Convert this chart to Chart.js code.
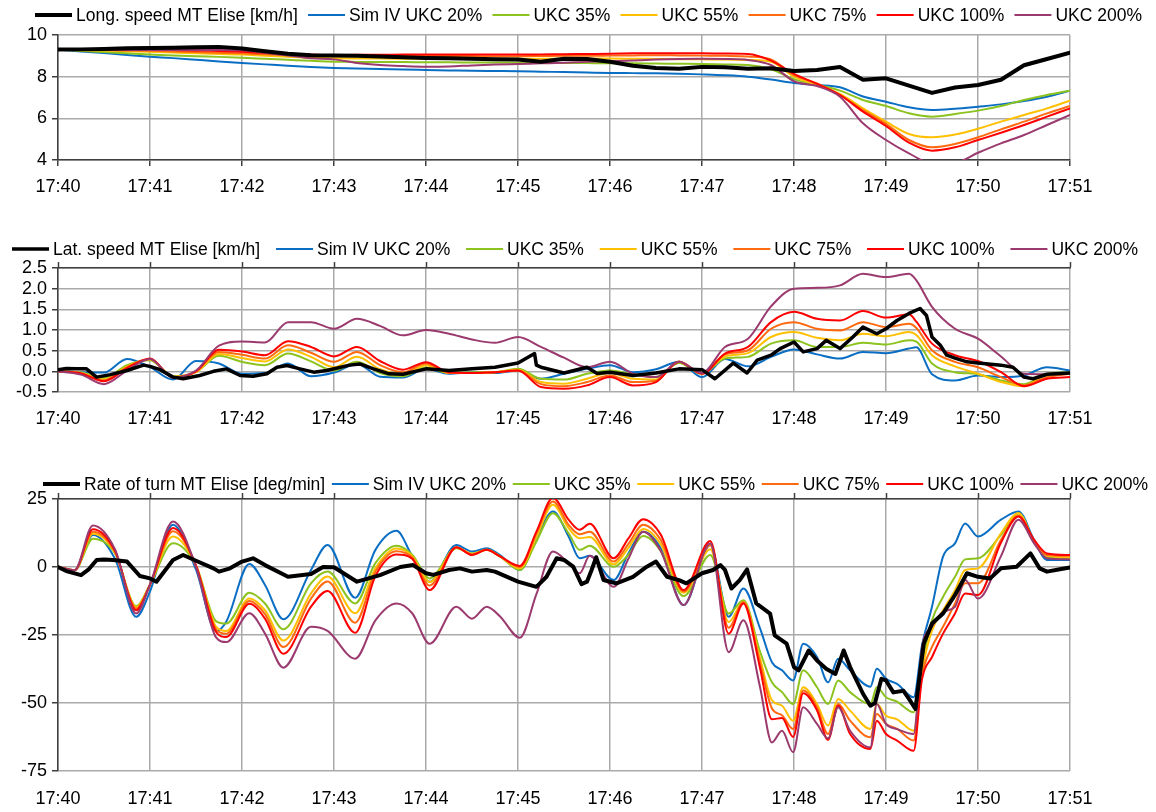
<!DOCTYPE html>
<html>
<head>
<meta charset="utf-8">
<script src="https://cdn.jsdelivr.net/npm/chart.js@4.4.1/dist/chart.umd.min.js"></script>
<style>
  html, body { margin: 0; padding: 0; background: #fff; }
  #wrap { position: relative; width: 1156px; height: 812px; overflow: hidden; background: #fff; }
  canvas { position: absolute; left: 0; }
</style>
</head>
<body>
<div id="wrap">
  <canvas id="speed" width="1156" height="212" style="top:0px"></canvas>
  <canvas id="lat" width="1156" height="212" style="top:230px"></canvas>
  <canvas id="rot" width="1156" height="347" style="top:465px"></canvas>
</div>
<script>
// ---- axis labels ----
const timeLabels = ['17:40','17:41','17:42','17:43','17:44','17:45','17:46','17:47','17:48','17:49','17:50','17:51'];
const simLabels = ['Sim IV UKC 20%','UKC 35%','UKC 55%','UKC 75%','UKC 100%','UKC 200%'];
const simColors = ['#0A6FC4','#8CC31E','#FFC000','#FF6A10','#FF0000','#9B3A6E'];

// ---- longitudinal speed [km/h], minutes after 17:40 ----
const speedTime = [0,0.25,0.5,0.75,1,1.25,1.5,1.75,2,2.25,2.5,2.75,3,3.25,3.5,3.75,4,4.25,4.5,4.75,5,5.25,5.5,5.75,6,6.25,6.5,6.75,7,7.25,7.5,7.75,8,8.25,8.5,8.75,9,9.25,9.5,9.75,10,10.25,10.5,10.75,11];
const speedMeasured = [9.30,9.31,9.33,9.36,9.38,9.39,9.41,9.43,9.35,9.22,9.10,9.03,9.02,9.00,8.97,8.93,8.90,8.88,8.86,8.84,8.82,8.72,8.86,8.85,8.72,8.52,8.42,8.38,8.47,8.45,8.38,8.40,8.27,8.32,8.46,7.85,7.92,7.57,7.22,7.48,7.60,7.85,8.55,8.85,9.15];
const speedUkc20 = [9.30,9.21,9.13,9.04,8.96,8.89,8.81,8.73,8.66,8.59,8.52,8.46,8.42,8.39,8.37,8.34,8.32,8.30,8.28,8.27,8.26,8.24,8.22,8.20,8.18,8.17,8.16,8.14,8.11,8.07,8.00,7.86,7.70,7.60,7.49,7.05,6.80,6.53,6.40,6.46,6.56,6.67,6.83,7.04,7.33];
const speedUkc35 = [9.30,9.24,9.18,9.12,9.06,9.02,8.98,8.95,8.91,8.86,8.81,8.76,8.72,8.71,8.70,8.70,8.69,8.69,8.68,8.68,8.67,8.66,8.66,8.65,8.64,8.64,8.63,8.62,8.61,8.59,8.56,8.35,7.88,7.60,7.33,6.88,6.59,6.24,6.08,6.21,6.37,6.59,6.88,7.12,7.33];
const speedUkc55 = [9.30,9.27,9.25,9.22,9.19,9.16,9.12,9.09,9.06,9.00,8.95,8.91,8.88,8.87,8.87,8.86,8.86,8.86,8.86,8.86,8.86,8.86,8.86,8.87,8.87,8.86,8.85,8.84,8.83,8.82,8.80,8.72,8.00,7.60,7.17,6.48,5.84,5.25,5.09,5.22,5.50,5.84,6.16,6.48,6.85];
const speedUkc75 = [9.30,9.30,9.28,9.26,9.24,9.21,9.18,9.15,9.12,9.07,9.03,9.00,8.99,8.99,8.99,8.99,8.99,8.99,8.99,8.98,8.98,8.99,9.00,9.00,9.01,9.02,9.03,9.02,9.01,9.00,8.97,8.83,8.08,7.68,7.12,6.40,5.73,4.96,4.61,4.77,5.09,5.47,5.84,6.24,6.59];
const speedUkc100 = [9.30,9.31,9.31,9.31,9.30,9.28,9.26,9.23,9.20,9.14,9.09,9.06,9.04,9.05,9.05,9.06,9.06,9.06,9.06,9.06,9.06,9.07,9.08,9.09,9.10,9.12,9.13,9.12,9.12,9.11,9.09,8.77,8.13,7.65,7.12,6.32,5.63,4.83,4.45,4.61,4.96,5.31,5.68,6.08,6.48];
const speedUkc200 = [9.30,9.29,9.28,9.28,9.28,9.28,9.28,9.28,9.27,9.15,9.02,8.88,8.83,8.66,8.56,8.51,8.48,8.49,8.54,8.58,8.61,8.64,8.67,8.71,8.74,8.78,8.82,8.85,8.86,8.85,8.80,8.56,7.78,7.55,7.04,5.76,4.96,4.32,3.84,3.87,4.35,4.80,5.20,5.68,6.16];

// ---- lateral speed [km/h] ----
const latMeasuredTime = [0,0.09,0.2,0.31,0.42,0.57,0.75,0.93,1.0,1.11,1.25,1.36,1.54,1.69,1.83,1.98,2.12,2.27,2.38,2.49,2.63,2.78,2.92,3.17,3.28,3.43,3.6,3.75,4.0,4.25,4.5,4.75,5.0,5.18,5.2,5.25,5.5,5.75,5.86,6.0,6.25,6.5,6.75,7.0,7.14,7.34,7.49,7.6,7.75,7.85,8.0,8.1,8.25,8.35,8.5,8.64,8.75,8.9,9.0,9.12,9.25,9.37,9.44,9.5,9.59,9.66,9.75,9.88,10.0,10.25,10.38,10.5,10.6,10.75,11.0];
const latMeasured = [0.04,0.07,0.06,0.06,-0.14,-0.08,0.02,0.15,0.12,0.04,-0.14,-0.18,-0.10,0.00,0.06,-0.10,-0.12,-0.06,0.10,0.14,0.06,-0.02,0.02,0.15,0.18,0.06,-0.06,-0.07,0.06,0.02,0.06,0.10,0.20,0.43,0.15,0.10,-0.04,0.10,-0.05,-0.02,-0.10,-0.04,0.06,0.04,-0.18,0.20,-0.04,0.27,0.39,0.55,0.71,0.47,0.55,0.75,0.55,0.83,1.07,0.91,1.03,1.23,1.40,1.52,1.35,0.83,0.63,0.39,0.32,0.23,0.20,0.15,0.10,-0.14,-0.18,-0.07,-0.04];
const latTime = [0,0.25,0.5,0.75,1,1.25,1.5,1.75,2,2.25,2.5,2.75,3,3.25,3.5,3.75,4,4.25,4.5,4.75,5,5.25,5.5,5.75,6,6.25,6.5,6.75,7,7.25,7.5,7.75,8,8.25,8.5,8.75,9,9.25,9.33,9.5,9.75,10,10.25,10.5,10.75,11];
const latUkc20 = [0.00,-0.02,-0.03,0.30,0.10,-0.20,0.25,0.19,-0.06,-0.04,0.19,-0.12,-0.03,0.18,-0.13,-0.15,0.06,-0.06,-0.02,-0.04,0.02,-0.18,-0.06,0.06,0.15,-0.02,0.05,0.23,-0.14,0.30,0.12,0.35,0.53,0.41,0.31,0.47,0.44,0.55,0.58,-0.07,-0.22,-0.10,-0.14,-0.10,0.10,0.02];
const latUkc35 = [0.00,-0.03,-0.16,0.15,0.27,-0.12,-0.02,0.38,0.23,0.15,0.43,0.24,0.02,0.23,-0.04,-0.12,0.09,-0.04,-0.02,-0.02,0.06,-0.18,-0.20,-0.06,0.02,-0.07,-0.14,0.20,-0.06,0.31,0.35,0.67,0.75,0.59,0.59,0.69,0.65,0.75,0.72,0.19,-0.02,-0.07,-0.22,-0.31,-0.07,-0.02];
const latUkc55 = [0.00,-0.04,-0.20,0.12,0.29,-0.13,-0.02,0.42,0.32,0.24,0.53,0.35,0.10,0.35,0.05,-0.07,0.15,-0.04,-0.04,-0.02,0.04,-0.26,-0.30,-0.18,-0.04,-0.18,-0.20,0.23,-0.05,0.36,0.44,0.83,0.95,0.81,0.75,0.91,0.85,0.95,0.88,0.39,0.12,-0.06,-0.26,-0.36,-0.07,-0.04];
const latUkc75 = [0.00,-0.05,-0.22,0.10,0.30,-0.14,0.00,0.47,0.40,0.31,0.63,0.45,0.23,0.47,0.15,-0.02,0.19,-0.04,-0.04,-0.02,0.02,-0.31,-0.36,-0.26,-0.10,-0.26,-0.23,0.23,-0.05,0.41,0.51,1.03,1.19,1.03,0.99,1.19,1.07,1.15,1.05,0.51,0.23,0.10,-0.14,-0.34,-0.14,-0.06];
const latUkc100 = [0.00,-0.05,-0.24,0.08,0.31,-0.15,0.00,0.52,0.48,0.39,0.73,0.59,0.36,0.59,0.25,0.04,0.22,-0.02,-0.04,-0.02,0.02,-0.38,-0.42,-0.34,-0.14,-0.34,-0.26,0.23,-0.06,0.43,0.59,1.19,1.44,1.27,1.23,1.46,1.30,1.38,1.20,0.67,0.39,0.25,-0.02,-0.36,-0.18,-0.14];
const latUkc200 = [0.00,-0.08,-0.31,0.02,0.30,-0.15,0.02,0.62,0.72,0.70,1.19,1.19,1.03,1.27,1.10,0.87,1.00,0.91,0.77,0.69,0.83,0.59,0.33,0.10,0.23,-0.06,-0.14,0.23,-0.04,0.59,0.79,1.57,2.00,2.02,2.08,2.36,2.28,2.36,2.20,1.56,1.03,0.79,0.36,-0.06,-0.07,-0.04];

// ---- rate of turn [deg/min] ----
const rotMeasuredTime = [0,0.09,0.25,0.33,0.42,0.5,0.6,0.75,0.89,1.0,1.07,1.25,1.36,1.5,1.69,1.75,1.87,2.0,2.12,2.25,2.5,2.75,2.88,3.0,3.25,3.5,3.72,3.86,4.0,4.08,4.25,4.37,4.5,4.66,4.75,5.0,5.2,5.31,5.42,5.5,5.6,5.69,5.75,5.8,5.85,5.93,6.0,6.07,6.25,6.4,6.5,6.62,6.75,6.83,7.0,7.12,7.2,7.25,7.32,7.41,7.49,7.59,7.74,7.79,7.92,8.0,8.05,8.16,8.25,8.35,8.45,8.54,8.61,8.75,8.83,8.88,8.95,9.0,9.08,9.19,9.25,9.32,9.41,9.5,9.62,9.75,9.88,10.0,10.13,10.25,10.42,10.57,10.67,10.75,10.89,11.0];
const rotMeasured = [0,-1.5,-3,-1,2.6,2.8,2.6,2.0,-3.3,-4.2,-5.4,2.6,4.4,2.3,-0.5,-1.7,-0.5,2.0,3.2,0.7,-3.6,-2.6,0,-0.1,-5.4,-3.0,0,0.7,-2.3,-2.9,-1.1,-0.5,-1.7,-1.1,-1.7,-5.4,-7.3,-3.6,3.2,2.6,0.1,-6.3,-5.4,-1.1,3.6,-4.8,-5.4,-6.0,-3.6,0.1,2.0,-3.6,-4.8,-6.0,-2.3,-1.1,0.7,-1.1,-7.9,-4.8,-0.9,-13.4,-17.1,-25.1,-28.2,-36.8,-38.0,-30.7,-34.4,-37.4,-39.3,-30.7,-36.8,-46.6,-51.0,-50.0,-41.1,-41.7,-46.1,-45.5,-48.5,-52.2,-28.2,-20.8,-17.1,-10.3,-2.3,-3.6,-4.2,-0.5,0.1,5.0,-0.5,-1.7,-0.8,-0.2];
const rotTime = [0,0.18,0.38,0.62,0.85,1.0,1.25,1.5,1.72,1.83,2.08,2.25,2.45,2.75,2.93,3.23,3.45,3.68,3.85,4.04,4.33,4.5,4.66,4.8,5.02,5.2,5.38,5.55,5.67,5.78,6.04,6.2,6.36,6.55,6.8,7.09,7.29,7.45,7.63,7.76,7.87,7.99,8.1,8.25,8.37,8.48,8.61,8.83,8.9,9.0,9.12,9.3,9.39,9.5,9.62,9.75,9.86,10.0,10.25,10.44,10.61,10.75,11.0];
const rotUkc20 = [0,-1.2,11.8,3.0,-18.3,-9.0,15.5,-1.0,-23.5,-20.0,1.1,-6.6,-19.2,-1.1,8.1,-11.3,6.3,13.3,4.0,-5.4,8.1,5.7,6.9,4.5,-1.1,10.6,20.4,11.2,3.2,4.1,-4.8,5.0,13.0,7.0,-14.0,8.1,-18.3,-7.9,-22.5,-35.0,-38.0,-41.7,-28.2,-33.1,-42.4,-33.7,-38.0,-44.0,-37.4,-41.1,-43.0,-47.9,-29.0,-14.6,3.8,8.7,16.0,11.2,17.4,20.4,10.0,2.6,2.6];
const rotUkc35 = [0,-1.2,10.4,5.0,-14.4,-6.5,8.7,0.5,-20.0,-20.8,-9.5,-13.4,-22.9,-6.0,-1.7,-13.4,1.4,7.8,4.5,-4.2,6.9,5.0,6.3,4.0,-1.1,9.4,19.8,12.4,6.3,7.8,0.1,4.5,11.4,6.0,-10.7,4.4,-17.1,-12.2,-31.0,-42.4,-46.0,-50.4,-38.0,-44.2,-50.4,-41.7,-46.0,-50.4,-44.2,-47.9,-49.5,-53.4,-36.0,-19.6,-11.0,-3.6,2.8,3.2,11.8,19.8,9.4,3.8,3.2];
const rotUkc55 = [0,-1.2,12.2,5.3,-14.8,-6.5,11.2,0.5,-22.0,-23.5,-11.6,-15.9,-27.0,-9.7,-3.5,-17.0,-0.5,6.8,4.0,-5.5,7.2,4.8,6.3,4.0,-0.5,11.0,22.9,14.3,10.6,11.0,1.0,7.0,14.0,8.5,-9.5,6.5,-20.2,-12.8,-33.5,-49.0,-51.0,-56.5,-44.2,-50.4,-58.3,-48.5,-52.8,-59.6,-50.4,-54.7,-56.0,-60.2,-38.5,-23.3,-15.9,-8.5,-1.1,-0.5,12.4,19.8,9.4,4.1,3.6];
const rotUkc75 = [0,-1.2,13.0,5.6,-15.3,-6.5,13.1,0.5,-23.0,-24.5,-12.5,-17.3,-29.4,-11.6,-5.3,-20.5,-1.7,5.8,3.5,-6.8,7.2,4.6,6.3,4.0,0.0,12.3,24.1,15.5,12.0,13.0,2.0,8.5,15.5,10.0,-9.0,8.0,-22.3,-13.0,-35.0,-52.0,-54.5,-59.6,-45.4,-51.6,-61.4,-50.4,-56.5,-62.6,-54.0,-57.7,-59.5,-63.8,-40.0,-29.4,-22.0,-13.4,-6.0,-6.0,10.0,18.8,9.7,4.4,4.1];
const rotUkc100 = [0,-1.2,13.9,6.0,-15.9,-6.5,14.3,0.5,-24.0,-25.7,-13.5,-19.0,-31.9,-14.6,-8.8,-24.2,-3.3,4.6,3.0,-8.5,7.3,4.4,6.3,4.0,0.4,13.0,25.4,17.4,13.7,15.9,3.2,10.5,17.6,12.0,-8.5,9.6,-24.5,-13.4,-37.0,-56.0,-55.5,-62.5,-46.4,-52.7,-63.5,-51.0,-61.4,-66.9,-56.5,-61.4,-63.8,-67.6,-41.5,-33.1,-24.5,-17.1,-9.7,-10.3,9.0,18.6,10.0,5.0,4.4];
const rotUkc200 = [0,-1.2,15.3,6.5,-17.1,-6.5,16.7,0.0,-26.0,-27.6,-17.0,-24.5,-37.0,-22.0,-23.5,-33.7,-19.6,-13.4,-17.0,-28.2,-14.6,-19.0,-14.6,-18.0,-26.0,-10.0,5.7,1.4,-2.3,4.1,-7.3,3.0,13.0,6.0,-14.0,8.7,-31.3,-19.6,-44.0,-64.5,-60.2,-68.1,-51.6,-57.7,-63.0,-51.6,-60.2,-66.3,-50.4,-57.7,-59.6,-61.4,-30.0,-22.0,-16.5,-14.6,-4.8,-11.6,4.0,17.4,8.7,3.2,2.8];

// ---- styling ----
const FONT = "'Liberation Sans', Arial, sans-serif";
const GRID = '#aaaaaa';
const AXIS = '#3f3f3f';
const PLOT_LEFT = 58;
const PLOT_RIGHT = 1070;
const CANVAS_W = 1156;

// legend drawn as a single row of line samples + labels
const lineLegend = {
  id: 'lineLegend',
  afterDraw(chart, _args, o) {
    const ctx = chart.ctx;
    const items = chart.data.datasets;
    ctx.save();
    ctx.font = o.font;
    const widths = items.map(d => ctx.measureText(d.label).width);
    const fixed = widths.reduce((s, w) => s + w + o.sample + o.gap, 0);
    const space = (o.right - o.left - fixed) / (items.length - 1);
    let x = o.left;
    items.forEach((d, i) => {
      ctx.beginPath();
      ctx.strokeStyle = d.borderColor;
      ctx.lineWidth = d.borderWidth;
      ctx.lineCap = 'butt';
      ctx.moveTo(x, o.y);
      ctx.lineTo(x + o.sample, o.y);
      ctx.stroke();
      x += o.sample + o.gap;
      ctx.fillStyle = '#000';
      ctx.textAlign = 'left';
      ctx.textBaseline = 'middle';
      ctx.fillText(d.label, x, o.y + 1);
      x += widths[i] + space;
    });
    ctx.restore();
  }
};

const pts = (ts, vs) => ts.map((t, i) => ({ x: t, y: vs[i] }));

function buildDatasets(measuredLabel, mt, mv, blackWidth, st, sims) {
  const ds = [{
    label: measuredLabel, data: pts(mt, mv), borderColor: '#000', backgroundColor: '#000',
    borderWidth: blackWidth, tension: 0, order: 0, borderJoinStyle: 'round'
  }];
  sims.forEach((vals, i) => ds.push({
    label: simLabels[i], data: pts(st, vals), borderColor: simColors[i], backgroundColor: simColors[i],
    borderWidth: 2, cubicInterpolationMode: 'monotone', order: 6 - i
  }));
  return ds;
}

function makeChart(id, p) {
  const scales = {
    x: {
      type: 'linear', position: 'bottom', min: 0, max: 11,
      afterFit: s => { s.height = p.xHeight; },
      ticks: {
        stepSize: 1, autoSkip: false, maxRotation: 0, padding: p.labelPad, color: '#000',
        font: { family: FONT, size: 18 },
        callback: v => timeLabels[Math.round(v)] ?? ''
      },
      grid: { color: GRID, lineWidth: 1.5, drawTicks: p.bottomFrame, tickLength: 6, tickColor: AXIS, tickWidth: 1.5 },
      border: { display: p.bottomFrame, color: AXIS, width: 1.5 }
    },
    y: {
      position: 'left', min: p.yMin, max: p.yMax,
      afterFit: s => { s.width = PLOT_LEFT; },
      ticks: {
        stepSize: p.yStep, autoSkip: false, padding: 5, color: '#000', font: { family: FONT, size: 18 },
        callback: p.yFormat
      },
      grid: { color: GRID, lineWidth: 1.5, tickLength: 6, tickColor: AXIS, tickWidth: 1.5 },
      border: { color: AXIS, width: 1.5 }
    }
  };
  if (!p.bottomFrame) {
    scales.xTop = {
      type: 'linear', position: 'top', min: 0, max: 11,
      afterFit: s => { s.height = 6; },
      ticks: { display: false, stepSize: 1, autoSkip: false },
      grid: { drawOnChartArea: false, drawTicks: true, tickLength: 6, tickColor: AXIS, tickWidth: 1.5, color: AXIS },
      border: { color: AXIS, width: 1.5 }
    };
  }
  return new Chart(document.getElementById(id), {
    type: 'line',
    data: { datasets: p.datasets },
    plugins: [lineLegend],
    options: {
      responsive: false, animation: false, devicePixelRatio: 1, events: [],
      layout: { padding: { top: p.padTop, right: CANVAS_W - PLOT_RIGHT, bottom: 0, left: 0 } },
      elements: { point: { radius: 0, hitRadius: 0 }, line: { borderCapStyle: 'round' } },
      plugins: {
        legend: { display: false }, tooltip: { enabled: false },
        lineLegend: { font: '17.5px ' + FONT, y: p.legendY, left: p.legendLeft, right: p.legendRight, sample: 37, gap: 4 }
      },
      scales
    }
  });
}

makeChart('speed', {
  datasets: buildDatasets('Long. speed MT Elise [km/h]', speedTime, speedMeasured, 4, speedTime,
    [speedUkc20, speedUkc35, speedUkc55, speedUkc75, speedUkc100, speedUkc200]),
  yMin: 4, yMax: 10, yStep: 2, yFormat: v => String(v),
  padTop: 35, xHeight: 52, labelPad: 10, bottomFrame: true,
  legendY: 15, legendLeft: 35, legendRight: 1142
});

makeChart('lat', {
  datasets: buildDatasets('Lat. speed MT Elise [km/h]', latMeasuredTime, latMeasured, 3.5, latTime,
    [latUkc20, latUkc35, latUkc55, latUkc75, latUkc100, latUkc200]),
  yMin: -0.5, yMax: 2.5, yStep: 0.5, yFormat: v => v.toFixed(1),
  padTop: 32, xHeight: 50, labelPad: 16, bottomFrame: false,
  legendY: 19, legendLeft: 12, legendRight: 1138
});

makeChart('rot', {
  datasets: buildDatasets('Rate of turn MT Elise [deg/min]', rotMeasuredTime, rotMeasured, 4, rotTime,
    [rotUkc20, rotUkc35, rotUkc55, rotUkc75, rotUkc100, rotUkc200]),
  yMin: -75, yMax: 25, yStep: 25, yFormat: v => String(v),
  padTop: 28, xHeight: 41, labelPad: 17, bottomFrame: false,
  legendY: 19, legendLeft: 43, legendRight: 1148
});
</script>
</body>
</html>
